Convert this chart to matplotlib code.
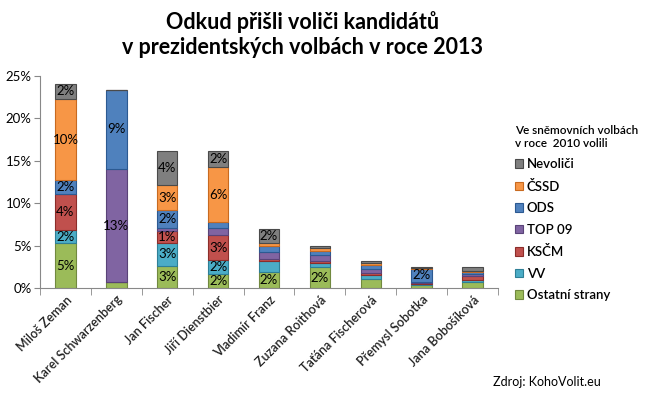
import matplotlib.pyplot as plt
import numpy as np

plt.rcParams['font.family'] = ['Lato', 'DejaVu Sans']

candidates = ["Miloš Zeman", "Karel Schwarzenberg", "Jan Fischer", "Jiří Dienstbier",
              "Vladimír Franz", "Zuzana Roithová", "Taťána Fischerová",
              "Přemysl Sobotka", "Jana Bobošíková"]

# podíly voličů (% z voličů) podle toho, koho volili v roce 2010
ostatni = [5.3, 0.67, 2.64, 1.65, 1.93, 2.44, 1.1, 0.4, 0.75]
vv = [1.5, 0.0, 2.7, 1.6, 1.2, 0.56, 0.4, 0.1, 0.2]
kscm = [4.3, 0.0, 1.4, 3.0, 0.3, 0.22, 0.23, 0.1, 0.5]
top09 = [0.0, 13.4, 0.3, 0.8, 0.86, 0.68, 0.47, 0.15, 0.15]
ods = [1.6, 9.3, 2.1, 0.75, 0.67, 0.47, 0.47, 1.5, 0.33]
cssd = [9.6, 0.0, 2.95, 6.45, 0.3, 0.32, 0.23, 0.1, 0.12]
nevolici = [1.8, 0.0, 4.1, 1.85, 1.65, 0.32, 0.3, 0.1, 0.4]

series = [("Ostatní strany", ostatni, "#9BBB59", "#71893F"),
          ("VV", vv, "#4BACC6", "#2E7F96"),
          ("KSČM", kscm, "#C0504D", "#8C2D2A"),
          ("TOP 09", top09, "#8064A2", "#5A4378"),
          ("ODS", ods, "#4F81BD", "#2C5A92"),
          ("ČSSD", cssd, "#F79646", "#C86A20"),
          ("Nevoliči", nevolici, "#7F7F7F", "#4A4A4A")]

fig = plt.figure(figsize=(6.5, 3.94), dpi=100)
ax = fig.add_axes([40 / 650, 1 - 288 / 394, 458 / 650, 212 / 394])

x = np.arange(len(candidates))
bottom = np.zeros(len(candidates))
handles = []
for name, vals, col, edge in series:
    vals = np.array(vals)
    b = ax.bar(x, vals, 0.4, bottom=bottom, color=col, edgecolor=edge,
               linewidth=0.8, label=name)
    handles.append(b)
    for xi, v, b0 in zip(x, vals, bottom):
        if v >= 1.3:
            ax.text(xi, b0 + v / 2, f"{int(v + 0.5)}%", ha='center', va='center',
                    fontsize=9.5, color='black')
    bottom += vals

ax.set_xlim(-0.5, len(candidates) - 0.5)
ax.set_ylim(0, 25)
ax.set_yticks(range(0, 26, 5))
ax.set_yticklabels([f"{v}%" for v in range(0, 26, 5)], fontsize=9.5)
ax.set_xticks(x)
ax.set_xticklabels(candidates, rotation=45, ha='right', rotation_mode='anchor',
                   fontsize=9, fontweight='semibold', color='#222222')
ax.tick_params(axis='x', length=0, pad=4)
ax.set_xticks(np.arange(-0.5, len(candidates), 1), minor=True)
ax.tick_params(axis='x', which='minor', length=5, color='#888888')
ax.tick_params(axis='y', length=4, color='#888888', pad=2)
for s in ['top', 'right']:
    ax.spines[s].set_visible(False)
for s in ['left', 'bottom']:
    ax.spines[s].set_color('#888888')

fig.text(0.466, 1 - 11 / 394, "Odkud přišli voliči kandidátů\nv prezidentských volbách v roce 2013",
         ha='center', va='top', fontsize=15.5, fontweight='bold', linespacing=1.25)

leg = fig.legend(handles[::-1], [s[0] for s in series][::-1], loc='upper left',
                 bbox_to_anchor=(503 / 650, 1 - 113 / 394), frameon=False,
                 title="Ve sněmovních volbách\nv roce  2010 volili", title_fontsize=8.5,
                 prop={'size': 9.5, 'weight': 'semibold'}, handlelength=0.6,
                 handleheight=0.6, handletextpad=0.3, labelspacing=0.72, alignment='left')
leg.get_title().set_fontweight('semibold')

fig.text(493 / 650, 1 - 382 / 394, "Zdroj: KohoVolit.eu", ha='left', va='center', fontsize=9)

fig.savefig("out.png", dpi=100)
